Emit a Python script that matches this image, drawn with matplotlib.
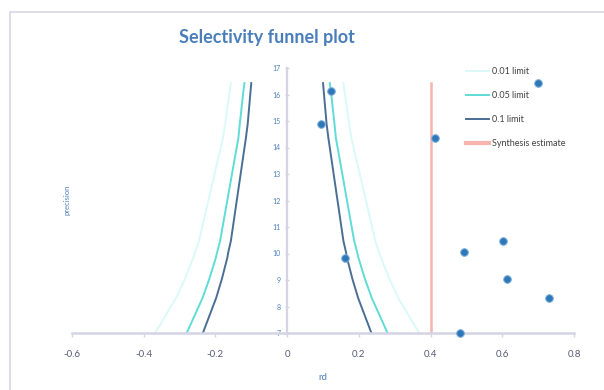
import matplotlib
matplotlib.use("Agg")
import matplotlib.pyplot as plt
from matplotlib.lines import Line2D
from matplotlib.patches import Rectangle

# study effects (rd) and precision
rd = [0.70, 0.123, 0.095, 0.413, 0.602, 0.494, 0.162, 0.613, 0.731, 0.482]
precision = [16.43, 16.13, 14.89, 14.36, 10.47, 10.06, 9.83, 9.04, 8.32, 7.0]

# funnel limits at the precisions of the studies (sorted low -> high)
lim_prec = [7.0, 8.32, 9.04, 9.83, 10.06, 10.47, 14.36, 14.89, 16.13, 16.43]
lim_01 = [0.368, 0.310, 0.285, 0.262, 0.256, 0.246, 0.179, 0.173, 0.160, 0.157]
lim_05 = [0.280, 0.236, 0.217, 0.199, 0.195, 0.187, 0.136, 0.132, 0.122, 0.119]
lim_10 = [0.235, 0.198, 0.182, 0.167, 0.164, 0.157, 0.115, 0.110, 0.102, 0.100]

synthesis = 0.4
xticks = [-0.6, -0.4, -0.2, 0, 0.2, 0.4, 0.6, 0.8]
xtick_labels = ["-0.6", "-0.4", "-0.2", "0", "0.2", "0.4", "0.6", "0.8"]
yticks = [7, 8, 9, 10, 11, 12, 13, 14, 15, 16, 17]

plt.rcParams['font.family'] = ['Lato', 'DejaVu Sans']

c01 = '#dcf8f8'
c05 = '#5fdcd6'
c10 = '#4a6f95'
csyn = '#f7b3ae'
blue = '#4a7ebb'

fig = plt.figure(figsize=(6.04, 3.90), dpi=100)
fig.patches.append(Rectangle((10 / 604, -0.1), 1.0, 1 - 12 / 390 + 0.1,
                             transform=fig.transFigure, fill=False,
                             edgecolor='#d6d6e6', linewidth=1.2))

ax = fig.add_axes([72 / 604, 1 - 333 / 390, 502 / 604, 265 / 390])

for lim, col in [(lim_01, c01), (lim_05, c05), (lim_10, c10)]:
    ax.plot(lim, lim_prec, color=col, lw=1.4)
    ax.plot([-v for v in lim], lim_prec, color=col, lw=1.4)

ax.plot([synthesis, synthesis], [min(precision), max(precision)], color=csyn, lw=1.8)

ax.plot(rd, precision, 'o', ms=5.5, color='#2f78b8', mec='#7fb0de', mew=0.7,
        clip_on=False, zorder=5)

ax.set_xlim(-0.6, 0.8)
ax.set_ylim(7, 17)
ax.set_xticks(xticks)
ax.set_xticklabels(xtick_labels)
ax.set_yticks(yticks)

for s in ['top', 'right']:
    ax.spines[s].set_visible(False)
ax.spines['left'].set_position(('data', 0))
ax.spines['left'].set_color('#d4d4e4')
ax.spines['left'].set_linewidth(1.6)
ax.spines['bottom'].set_color('#d4d4e4')
ax.spines['bottom'].set_linewidth(1.8)

ax.tick_params(axis='x', colors='#d4d4e4', labelcolor='#5a5a78', labelsize=7,
               length=3, width=1, pad=9)
ax.tick_params(axis='y', colors='#d4d4e4', labelcolor=blue, labelsize=5,
               length=3, width=1, direction='inout', pad=3)

ax.set_xlabel('rd', color=blue, fontsize=7, labelpad=10)
fig.text(67 / 604, 1 - 200 / 390, 'precision', rotation=90, color=blue,
         fontsize=5.5, ha='center', va='center')

fig.text(267 / 604, 1 - 38 / 390, 'Selectivity funnel plot', color=blue,
         fontsize=13, fontweight='bold', ha='center', va='center')

handles = [Line2D([], [], color=c01, lw=1.4), Line2D([], [], color=c05, lw=1.4),
           Line2D([], [], color=c10, lw=1.4), Line2D([], [], color=csyn, lw=3)]
labels = ['0.01 limit', '0.05 limit', '0.1 limit', 'Synthesis estimate']
fig.legend(handles, labels, loc='upper left', bbox_to_anchor=(466 / 604, 1 - 67 / 390),
           frameon=False, fontsize=6.5, handlelength=2.6, handletextpad=0.3,
           labelspacing=1.65, labelcolor='#404040', borderaxespad=0, borderpad=0)

fig.savefig('out.png', dpi=100)
